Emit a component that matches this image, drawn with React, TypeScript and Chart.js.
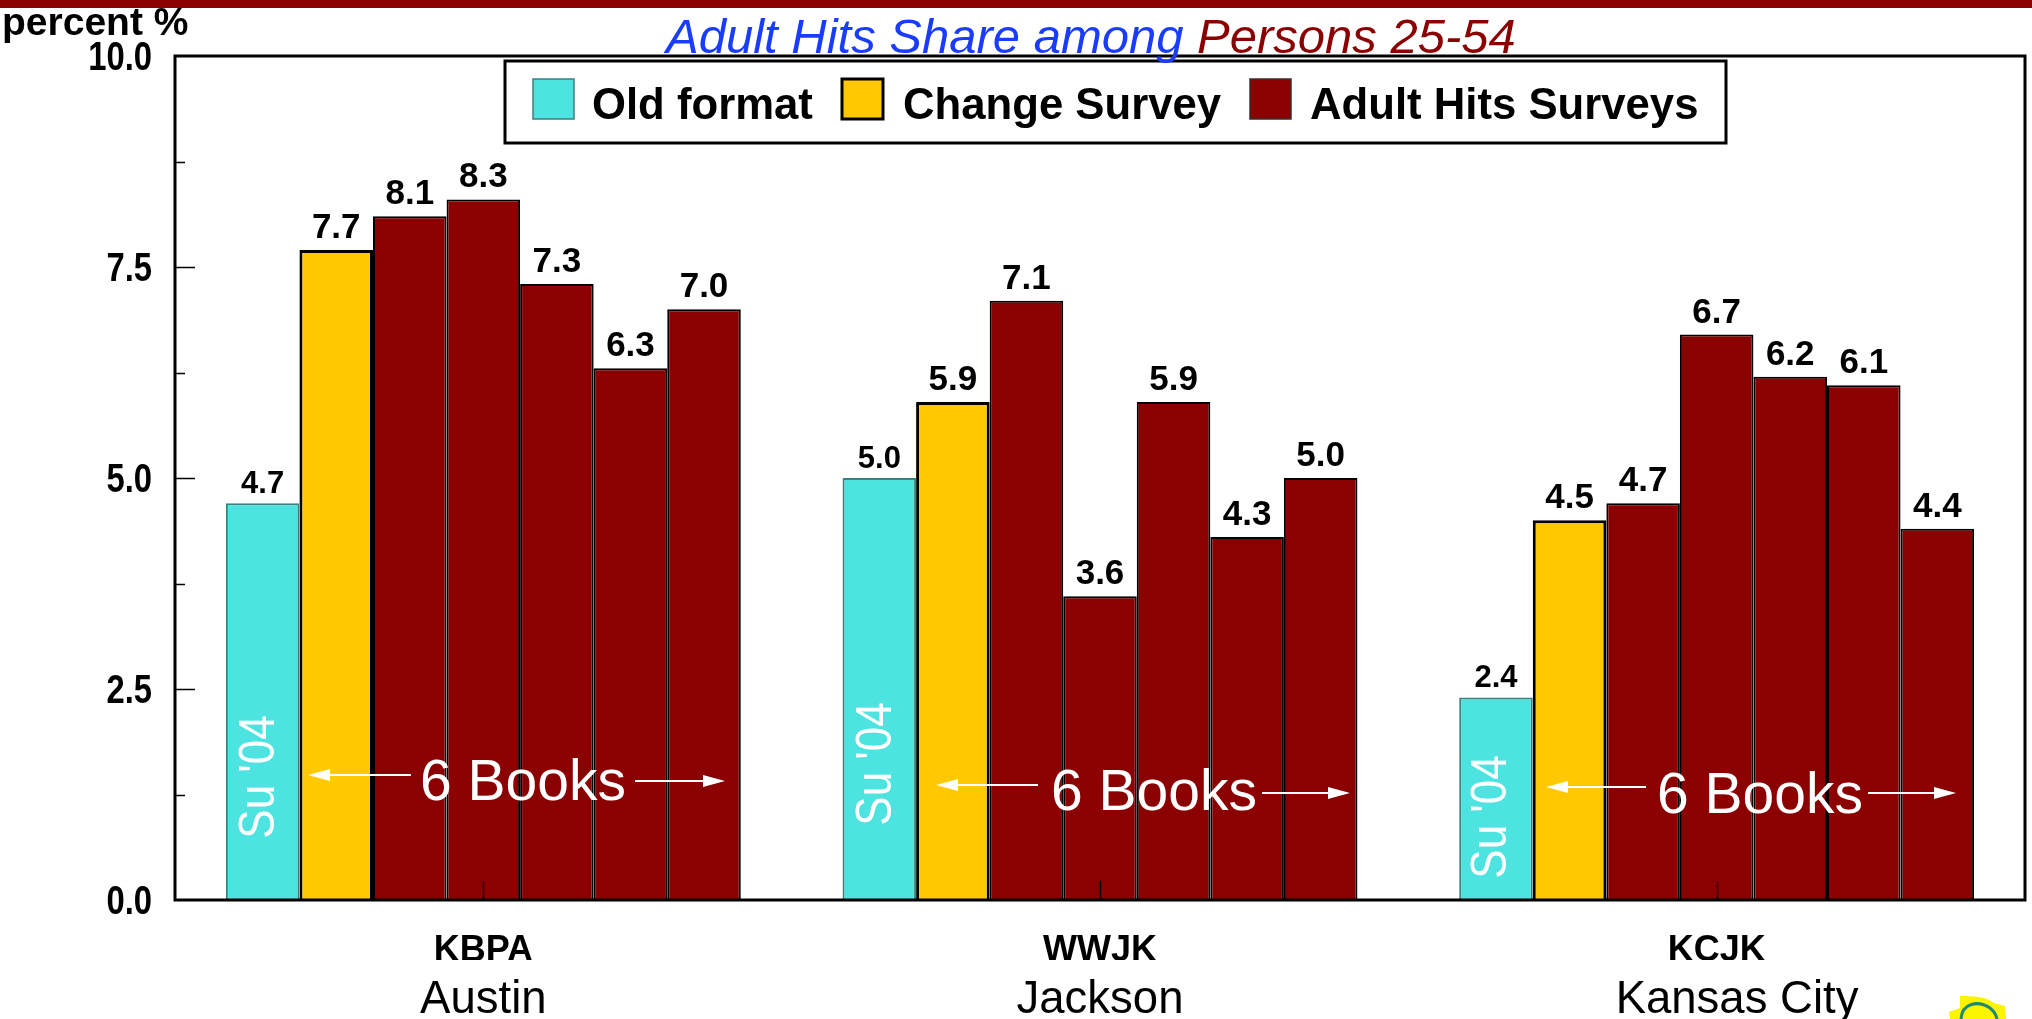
import React, { useEffect, useRef } from "react";
import { Chart, registerables } from "chart.js";

Chart.register(...registerables);

const stations = ["KBPA", "WWJK", "KCJK"];
const cities = ["Austin", "Jackson", "Kansas City"];
const oldFormat = [4.7, 5.0, 2.4];
const changeSurvey = [7.7, 5.9, 4.5];
const adultHits1 = [8.1, 7.1, 4.7];
const adultHits2 = [8.3, 3.6, 6.7];
const adultHits3 = [7.3, 5.9, 6.2];
const adultHits4 = [6.3, 4.3, 6.1];
const adultHits5 = [7.0, 5.0, 4.4];
const legendLabels = ["Old format", "Change Survey", "Adult Hits Surveys"];
const yLabelled = [0, 2.5, 5, 7.5, 10];

const TEAL = "#4de3e0";
const GOLD = "#ffc800";
const MAROON = "#8b0000";
const FONT = '"Liberation Sans"';

const notes = [
  { su: [260, 777], books: [523, 784], left: [411, 308, 775], right: [635, 725, 781] },
  { su: [877, 764], books: [1154, 794], left: [1038, 936, 785], right: [1262, 1350, 793] },
  { su: [1492, 817], books: [1760, 797], left: [1646, 1546, 787], right: [1868, 1956, 793] },
];

function arrow(ctx: CanvasRenderingContext2D, x0: number, x1: number, y: number) {
  const d = x1 > x0 ? 1 : -1;
  ctx.strokeStyle = "#fff";
  ctx.fillStyle = "#fff";
  ctx.lineWidth = 2;
  ctx.beginPath();
  ctx.moveTo(x0, y);
  ctx.lineTo(x1 - d * 10, y);
  ctx.stroke();
  ctx.beginPath();
  ctx.moveTo(x1, y);
  ctx.lineTo(x1 - d * 22, y - 6);
  ctx.lineTo(x1 - d * 22, y + 6);
  ctx.closePath();
  ctx.fill();
}

const decor = {
  id: "decor",
  afterDraw(chart: any) {
    const ctx: CanvasRenderingContext2D = chart.ctx;
    const { left, right, top, bottom } = chart.chartArea;
    ctx.save();

    // data labels
    ctx.textAlign = "center";
    ctx.textBaseline = "alphabetic";
    ctx.fillStyle = "#000";
    chart.data.datasets.forEach((ds: any, i: number) => {
      const meta = chart.getDatasetMeta(i);
      ctx.font = `bold ${i === 0 ? 31 : 35}px ${FONT}`;
      meta.data.forEach((el: any, j: number) => {
        ctx.fillText(Number(ds.data[j]).toFixed(1), el.x, el.y - (i === 0 ? 10 : 12));
      });
    });

    // inward ticks
    ctx.strokeStyle = "#000";
    ctx.lineWidth = 1.5;
    const ys = chart.scales.y;
    ys.ticks.forEach((t: any) => {
      if (t.value <= 0 || t.value >= 10) return;
      const y = Math.round(ys.getPixelForValue(t.value)) + 0.5;
      const len = yLabelled.includes(t.value) ? 20 : 10;
      ctx.beginPath();
      ctx.moveTo(left, y);
      ctx.lineTo(left + len, y);
      ctx.stroke();
    });
    const xs = chart.scales.x;
    stations.forEach((_, i) => {
      const x = Math.round(xs.getPixelForValue(i)) + 0.5;
      ctx.beginPath();
      ctx.moveTo(x, bottom);
      ctx.lineTo(x, bottom - 19);
      ctx.stroke();
    });

    // plot frame
    ctx.lineWidth = 3;
    ctx.strokeRect(left, top, right - left, bottom - top);

    // annotations
    notes.forEach((n) => {
      ctx.fillStyle = "#fff";
      ctx.font = `44px ${FONT}`;
      ctx.textAlign = "center";
      ctx.textBaseline = "middle";
      ctx.save();
      ctx.translate(n.su[0], n.su[1]);
      ctx.rotate(-Math.PI / 2);
      ctx.scale(1, 1.12);
      ctx.fillText("Su '04", 0, 0);
      ctx.restore();
      ctx.font = `57px ${FONT}`;
      ctx.fillText("6 Books", n.books[0], n.books[1]);
      arrow(ctx, n.left[0], n.left[1], n.left[2]);
      arrow(ctx, n.right[0], n.right[1], n.right[2]);
    });

    // legend
    ctx.fillStyle = "#fff";
    ctx.fillRect(505, 61, 1221, 82);
    ctx.strokeStyle = "#000";
    ctx.lineWidth = 3;
    ctx.strokeRect(505, 61, 1221, 82);
    const swatchX = [533, 842, 1250];
    const textX = [592, 903, 1310];
    const colors = [TEAL, GOLD, MAROON];
    const edges = ["#3f7f80", "#000", "#333"];
    const widths = [1.5, 3, 1.5];
    ctx.font = `bold 43.7px ${FONT}`;
    ctx.textAlign = "left";
    ctx.textBaseline = "alphabetic";
    legendLabels.forEach((label, i) => {
      ctx.fillStyle = colors[i];
      ctx.fillRect(swatchX[i], 79, 41, 40);
      ctx.strokeStyle = edges[i];
      ctx.lineWidth = widths[i];
      ctx.strokeRect(swatchX[i], 79, 41, 40);
      ctx.fillStyle = "#000";
      ctx.fillText(label, textX[i], 119);
    });

    // top band
    ctx.fillStyle = MAROON;
    ctx.fillRect(0, 0, chart.width, 8);

    // axis unit
    ctx.fillStyle = "#000";
    ctx.font = `bold 39px ${FONT}`;
    ctx.fillText("percent %", 2, 35);

    // title
    ctx.font = `italic 49px ${FONT}`;
    ctx.fillStyle = "#1a3cff";
    const first = "Adult Hits Share among ";
    ctx.fillText(first, 666, 53);
    const w = ctx.measureText(first).width;
    ctx.fillStyle = MAROON;
    ctx.fillText("Persons 25-54", 666 + w, 53);

    // logo
    ctx.fillStyle = "#fdf500";
    ctx.beginPath();
    ctx.moveTo(1960, 996);
    ctx.quadraticCurveTo(1985, 995, 1994, 1003);
    ctx.lineTo(2005, 1006);
    ctx.lineTo(2006, 1019);
    ctx.lineTo(1950, 1019);
    ctx.lineTo(1949, 1012);
    ctx.lineTo(1960, 1008);
    ctx.closePath();
    ctx.fill();
    ctx.strokeStyle = "#1f8a70";
    ctx.lineWidth = 3;
    ctx.beginPath();
    ctx.moveTo(1961, 1019);
    ctx.bezierCurveTo(1962, 1003, 1978, 1000, 1990, 1008);
    ctx.quadraticCurveTo(1996, 1013, 1997, 1019);
    ctx.stroke();
    ctx.restore();
  },
};

// The reference's value-axis numerals are condensed: squeeze the axis's own labels about their right edge.
function condenseLabels(scale: any) {
  if (scale.__condensed) return;
  scale.__condensed = true;
  const draw = scale.drawLabels.bind(scale);
  scale.drawLabels = (area: any) => {
    const ctx = scale.ctx;
    const anchor = 152;
    ctx.save();
    ctx.translate(anchor, 0);
    ctx.scale(0.8, 1);
    ctx.translate(-anchor, 0);
    draw(area);
    ctx.restore();
  };
}

export default function App() {
  const ref = useRef<HTMLCanvasElement>(null);
  useEffect(() => {
    const bar = (label: string, data: number[], color: string, edge: string, width: number) => ({
      label,
      data,
      backgroundColor: color,
      borderColor: edge,
      borderWidth: width,
      categoryPercentage: 0.835,
      barPercentage: 1,
    });
    const chart = new Chart(ref.current!, {
      type: "bar",
      data: {
        labels: stations,
        datasets: [
          bar(legendLabels[0], oldFormat, TEAL, "#3f7f80", 2),
          bar(legendLabels[1], changeSurvey, GOLD, "#000", 3),
          bar(legendLabels[2] + " 1", adultHits1, MAROON, "#000", 2),
          bar(legendLabels[2] + " 2", adultHits2, MAROON, "#000", 2),
          bar(legendLabels[2] + " 3", adultHits3, MAROON, "#000", 2),
          bar(legendLabels[2] + " 4", adultHits4, MAROON, "#000", 2),
          bar(legendLabels[2] + " 5", adultHits5, MAROON, "#000", 2),
        ],
      },
      options: {
        responsive: false,
        animation: false,
        layout: { padding: { top: 56, right: 7, bottom: 0, left: 0 } },
        plugins: { legend: { display: false }, title: { display: false }, tooltip: { enabled: false } },
        scales: {
          y: {
            min: 0,
            max: 10,
            afterFit: (s: any) => { s.width = 175; condenseLabels(s); },
            grid: { display: false, drawTicks: false },
            border: { display: false },
            ticks: {
              stepSize: 1.25,
              autoSkip: false,
              padding: 23,
              labelOffset: 3,
              color: "#000",
              font: { family: "Liberation Sans", size: 41, weight: "bold" },
              callback: (v: any) => (yLabelled.includes(Number(v)) ? Number(v).toFixed(1) : ""),
            },
          },
          x: {
            weight: 1,
            afterFit: (s: any) => { s.height = 60; },
            grid: { display: false, drawTicks: false },
            border: { display: false },
            ticks: {
              padding: 29,
              maxRotation: 0,
              autoSkip: false,
              color: "#000",
              font: { family: "Liberation Sans", size: 36, weight: "bold" },
            },
          },
          x2: {
            type: "category",
            position: "bottom",
            weight: 2,
            labels: cities,
            afterFit: (s: any) => { s.height = 59; },
            afterBuildTicks: (s: any) => {
              s.ticks = s.ticks.map((t: any, i: number) => ({ ...t, value: i === 2 ? i + 0.033 : i }));
            },
            grid: { display: false, drawTicks: false },
            border: { display: false },
            ticks: {
              padding: 13,
              maxRotation: 0,
              autoSkip: false,
              color: "#000",
              font: { family: "Liberation Sans", size: 45.5 },
              callback: (_: any, i: number) => cities[i],
            },
          },
        },
      } as any,
      plugins: [decor],
    });
    return () => chart.destroy();
  }, []);
  return (
    <canvas
      ref={ref}
      width={2032}
      height={1019}
      style={{ position: "absolute", left: 0, top: 0, display: "block" }}
    />
  );
}
